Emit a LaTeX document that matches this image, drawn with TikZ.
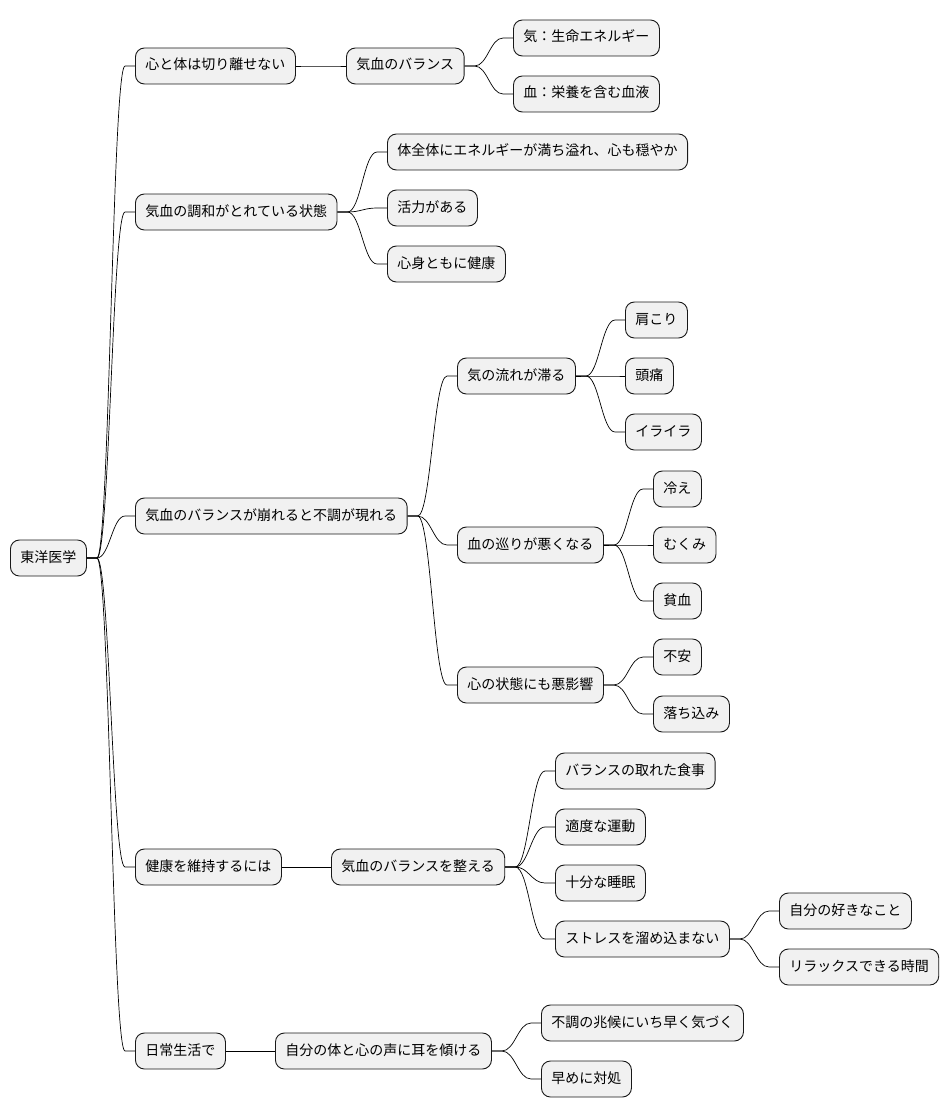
\documentclass[tikz,border=0pt]{standalone}
\usepackage{fontspec}
\setmainfont{Noto Sans CJK JP}
\usetikzlibrary{calc}
\definecolor{nodefill}{HTML}{F1F1F1}
\tikzset{
  mm/.style={draw=black!90, line width=0.9pt, fill=nodefill, rounded corners=9pt,
    minimum height=36pt, inner xsep=10pt, inner ysep=0pt, anchor=west,
    font=\fontsize{14pt}{16pt}\selectfont, text height=10.5pt, text depth=2.5pt},
  conn/.style={draw=black, line width=0.7pt}
}
\newcommand\conn[2]{%
  \path (#1.east) ++(10,0) coordinate (cp);
  \path (#2.west) ++(-10,0) coordinate (cq);
  \draw[conn] let \p1=(cp), \p2=(cq) in (#1.east) -- (cp)
    .. controls ({\x1+0.45*(\x2-\x1)},\y1) and ({\x1+0.55*(\x2-\x1)},\y2) .. (cq) -- (#2.west);}
\begin{document}
\begin{tikzpicture}[x=1pt,y=-1pt]
\useasboundingbox (0,0) rectangle (950,1118);
% root
\node[mm] (r) at (10,558) {東洋医学};
% level 1
\node[mm] (a1) at (135,66) {心と体は切り離せない};
\node[mm] (a2) at (135,212) {気血の調和がとれている状態};
\node[mm] (a3) at (135,516) {気血のバランスが崩れると不調が現れる};
\node[mm] (a4) at (135,867) {健康を維持するには};
\node[mm] (a5) at (135,1051) {日常生活で};
% level 2
\node[mm] (b1) at (346,66) {気血のバランス};
\node[mm] (b2) at (387,152) {体全体にエネルギーが満ち溢れ、心も穏やか};
\node[mm] (b3) at (387,208) {活力がある};
\node[mm] (b4) at (387,264) {心身ともに健康};
\node[mm] (b5) at (457,376) {気の流れが滞る};
\node[mm] (b6) at (457,545) {血の巡りが悪くなる};
\node[mm] (b7) at (457,685) {心の状態にも悪影響};
\node[mm] (b8) at (331,867) {気血のバランスを整える};
\node[mm] (b9) at (275,1051) {自分の体と心の声に耳を傾ける};
% level 3
\node[mm] (c1) at (513,38) {気：生命エネルギー};
\node[mm] (c2) at (513,94) {血：栄養を含む血液};
\node[mm] (c3) at (625,320) {肩こり};
\node[mm] (c4) at (625,376) {頭痛};
\node[mm] (c5) at (625,432) {イライラ};
\node[mm] (c6) at (653,489) {冷え};
\node[mm] (c7) at (653,545) {むくみ};
\node[mm] (c8) at (653,601) {貧血};
\node[mm] (c9) at (653,657) {不安};
\node[mm] (c10) at (653,714) {落ち込み};
\node[mm] (c11) at (555,771) {バランスの取れた食事};
\node[mm] (c12) at (555,827) {適度な運動};
\node[mm] (c13) at (555,883) {十分な睡眠};
\node[mm] (c14) at (555,939) {ストレスを溜め込まない};
\node[mm] (c15) at (541,1023) {不調の兆候にいち早く気づく};
\node[mm] (c16) at (541,1079) {早めに対処};
% level 4
\node[mm] (d1) at (779,911) {自分の好きなこと};
\node[mm] (d2) at (779,967) {リラックスできる時間};
% connectors
\conn{r}{a1}\conn{r}{a2}\conn{r}{a3}\conn{r}{a4}\conn{r}{a5}
\conn{a1}{b1}
\conn{a2}{b2}\conn{a2}{b3}\conn{a2}{b4}
\conn{a3}{b5}\conn{a3}{b6}\conn{a3}{b7}
\conn{a4}{b8}
\conn{a5}{b9}
\conn{b1}{c1}\conn{b1}{c2}
\conn{b5}{c3}\conn{b5}{c4}\conn{b5}{c5}
\conn{b6}{c6}\conn{b6}{c7}\conn{b6}{c8}
\conn{b7}{c9}\conn{b7}{c10}
\conn{b8}{c11}\conn{b8}{c12}\conn{b8}{c13}\conn{b8}{c14}
\conn{b9}{c15}\conn{b9}{c16}
\conn{c14}{d1}\conn{c14}{d2}
\end{tikzpicture}
\end{document}
